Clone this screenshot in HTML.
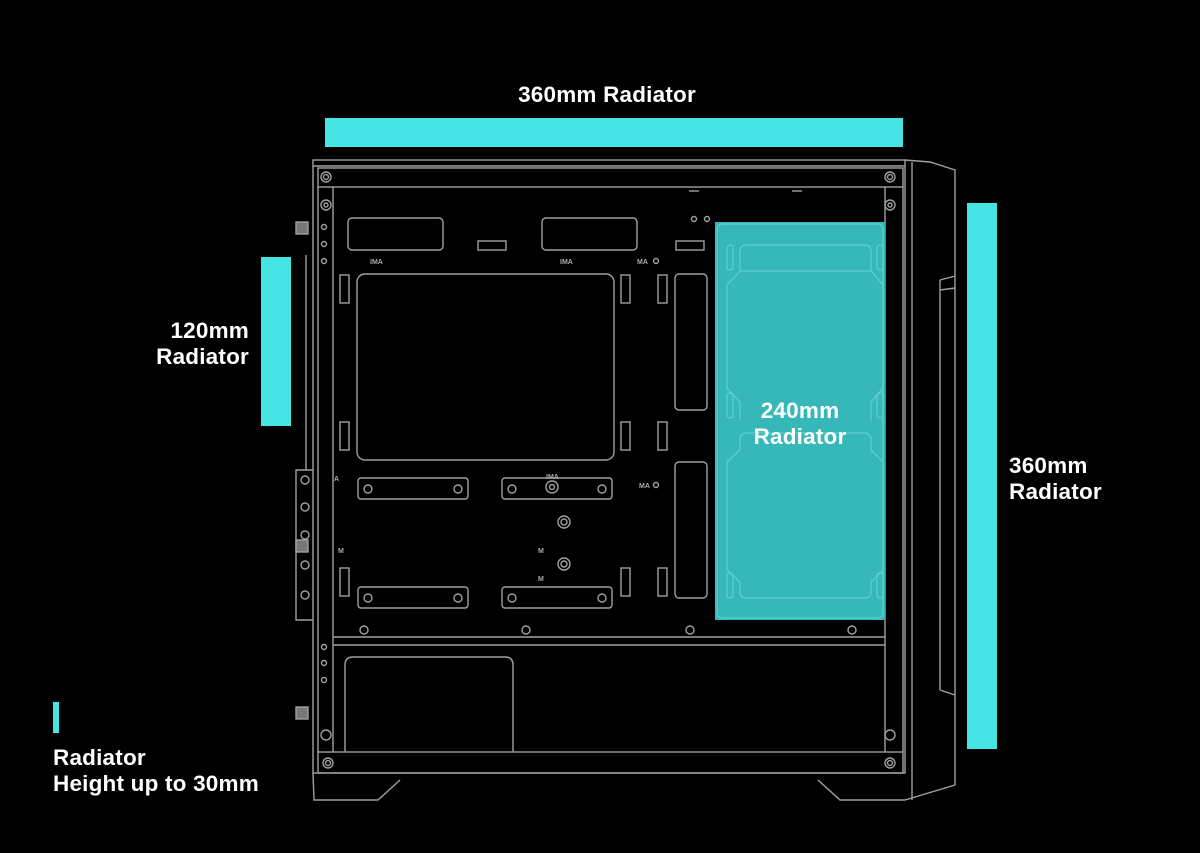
<!DOCTYPE html>
<html><head><meta charset="utf-8"><style>
html,body{margin:0;padding:0;background:#000;width:1200px;height:853px;overflow:hidden}
svg{display:block}
text{font-family:"Liberation Sans","DejaVu Sans",sans-serif;font-weight:bold;fill:#fff;font-size:22.5px;letter-spacing:0.2px}
.l{fill:none;stroke:#a0a0a0;stroke-width:1.4}
.s{font-size:7px;fill:#aaa;font-weight:bold;letter-spacing:0}
</style></head><body>
<svg width="1200" height="853" viewBox="0 0 1200 853">
<rect x="325" y="118" width="578" height="29" fill="#45e4e4"/>
<rect x="261" y="257" width="30" height="169" fill="#45e4e4"/>
<rect x="967" y="203" width="30" height="546" fill="#45e4e4"/>
<rect x="53" y="702" width="6" height="31" fill="#45e4e4"/>
<text x="607" y="102" text-anchor="middle">360mm Radiator</text>
<text x="249" y="338" text-anchor="end">120mm</text>
<text x="249" y="364" text-anchor="end">Radiator</text>
<text x="1009" y="473">360mm</text>
<text x="1009" y="499">Radiator</text>
<text x="53" y="765">Radiator</text>
<text x="53" y="791">Height up to 30mm</text>
<g class="l">
<rect x="313" y="160" width="592" height="613"/>
<line x1="313" y1="166" x2="905" y2="166"/>
<rect x="318" y="168" width="585" height="19"/>
<line x1="333" y1="187" x2="333" y2="752"/>
<line x1="885" y1="187" x2="885" y2="752"/>
<line x1="318" y1="187" x2="318" y2="752"/>
<line x1="903" y1="187" x2="903" y2="752"/>
<polyline points="905,160 930,162 955,170 955,785 905,800"/>
<line x1="912" y1="162" x2="912" y2="800"/>
<polyline points="940,280 955,276"/><line x1="940" y1="280" x2="940" y2="690"/><polyline points="940,690 955,695"/>
<line x1="940" y1="290" x2="955" y2="288"/>
<circle cx="326" cy="177" r="5"/><circle cx="326" cy="177" r="2.5"/>
<circle cx="890" cy="177" r="5"/><circle cx="890" cy="177" r="2.5"/>
<circle cx="326" cy="205" r="5"/><circle cx="326" cy="205" r="2"/>
<circle cx="890" cy="205" r="5"/><circle cx="890" cy="205" r="2"/>
<circle cx="324" cy="227" r="2.5"/><circle cx="324" cy="244" r="2.5"/><circle cx="324" cy="261" r="2.5"/>
<circle cx="324" cy="647" r="2.5"/><circle cx="324" cy="663" r="2.5"/><circle cx="324" cy="680" r="2.5"/>
<circle cx="694" cy="219" r="2.5"/><circle cx="707" cy="219" r="2.5"/>
<line x1="689" y1="191" x2="699" y2="191"/><line x1="792" y1="191" x2="802" y2="191"/>
<rect x="348" y="218" width="95" height="32" rx="4"/>
<rect x="542" y="218" width="95" height="32" rx="4"/>
<rect x="478" y="241" width="28" height="9"/><rect x="676" y="241" width="28" height="9"/>
<rect x="357" y="274" width="257" height="186" rx="8"/>
<rect x="675" y="274" width="32" height="136" rx="4"/>
<rect x="675" y="462" width="32" height="136" rx="4"/>
<rect x="340" y="275" width="9" height="28"/><rect x="621" y="275" width="9" height="28"/><rect x="658" y="275" width="9" height="28"/>
<rect x="340" y="422" width="9" height="28"/><rect x="621" y="422" width="9" height="28"/><rect x="658" y="422" width="9" height="28"/>
<rect x="340" y="568" width="9" height="28"/><rect x="621" y="568" width="9" height="28"/><rect x="658" y="568" width="9" height="28"/>
<rect x="358" y="478" width="110" height="21" rx="3"/><circle cx="368" cy="489" r="4"/><circle cx="458" cy="489" r="4"/>
<rect x="502" y="478" width="110" height="21" rx="3"/><circle cx="512" cy="489" r="4"/><circle cx="602" cy="489" r="4"/>
<circle cx="552" cy="487" r="6"/><circle cx="552" cy="487" r="2.5"/>
<rect x="358" y="587" width="110" height="21" rx="3"/><circle cx="368" cy="598" r="4"/><circle cx="458" cy="598" r="4"/>
<rect x="502" y="587" width="110" height="21" rx="3"/><circle cx="512" cy="598" r="4"/><circle cx="602" cy="598" r="4"/>
<circle cx="564" cy="522" r="6"/><circle cx="564" cy="522" r="3"/>
<circle cx="564" cy="564" r="6"/><circle cx="564" cy="564" r="3"/>
<circle cx="656" cy="261" r="2.5"/><circle cx="656" cy="485" r="2.5"/>
<line x1="333" y1="637" x2="885" y2="637"/><line x1="333" y1="645" x2="885" y2="645"/>
<circle cx="364" cy="630" r="4"/><circle cx="526" cy="630" r="4"/><circle cx="690" cy="630" r="4"/><circle cx="852" cy="630" r="4"/>
<path d="M345 752 V665 Q345 657 353 657 H505 Q513 657 513 665 V752"/>
<rect x="318" y="752" width="585" height="21"/>
<circle cx="328" cy="763" r="5"/><circle cx="328" cy="763" r="2.5"/>
<circle cx="890" cy="763" r="5"/><circle cx="890" cy="763" r="2.5"/>
<circle cx="326" cy="735" r="5"/><circle cx="890" cy="735" r="5"/>
<polyline points="313,773 314,800 378,800 400,780"/>
<polyline points="818,780 840,800 905,800"/>
<rect x="296" y="222" width="12" height="12" fill="#777"/>
<rect x="296" y="540" width="12" height="12" fill="#777"/>
<rect x="296" y="707" width="12" height="12" fill="#777"/>
<polyline points="313,470 296,470 296,620 313,620"/>
<circle cx="305" cy="480" r="4"/><circle cx="305" cy="507" r="4"/><circle cx="305" cy="535" r="4"/><circle cx="305" cy="565" r="4"/><circle cx="305" cy="595" r="4"/>
<line x1="306" y1="255" x2="306" y2="470"/>
</g>
<text class="s" x="370" y="264">IMA</text><text class="s" x="560" y="264">IMA</text>
<text class="s" x="637" y="264">MA</text><text class="s" x="639" y="488">MA</text>
<text class="s" x="546" y="479">IMA</text>
<text class="s" x="538" y="553">M</text><text class="s" x="538" y="581">M</text>
<text class="s" x="338" y="553">M</text><text class="s" x="334" y="481">A</text>
<rect x="715" y="222" width="170" height="398" fill="#37b8b8"/>
<g fill="none" stroke="#5fd0d0" stroke-width="1.2">
<rect x="717" y="224" width="166" height="394" rx="5"/>
<path d="M740 271 V252 Q740 245 747 245 H864 Q871 245 871 252 V271 L883 285 V388 L871 402 V420"/>
<path d="M740 271 L727 285 V388 L740 402 V420"/>
<path d="M740 450 V440 Q740 433 747 433 H864 Q871 433 871 440 V450 L883 462 V570 L871 582 V592 Q871 598 864 598 H747 Q740 598 740 592 V582 L727 570 V462 L740 450"/>
<line x1="740" y1="271" x2="871" y2="271"/>
<rect x="727" y="245" width="6" height="25" rx="3"/><rect x="877" y="245" width="6" height="25" rx="3"/>
<rect x="727" y="393" width="6" height="25" rx="3"/><rect x="877" y="393" width="6" height="25" rx="3"/>
<rect x="727" y="573" width="6" height="25" rx="3"/><rect x="877" y="573" width="6" height="25" rx="3"/>
</g>
<text x="800" y="418" text-anchor="middle">240mm</text>
<text x="800" y="444" text-anchor="middle">Radiator</text>
</svg>
</body></html>
